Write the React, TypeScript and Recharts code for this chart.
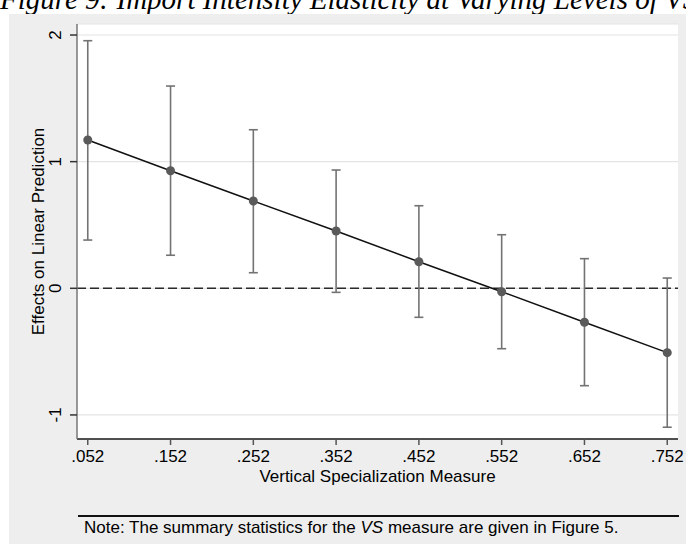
import React from 'react';
import { ComposedChart, Line, XAxis, YAxis, CartesianGrid, ReferenceLine, ErrorBar } from 'recharts';

const xLabels = ['.052', '.152', '.252', '.352', '.452', '.552', '.652', '.752'];
const xValues = [0.052, 0.152, 0.252, 0.352, 0.452, 0.552, 0.652, 0.752];
const estimates = [1.171, 0.928, 0.689, 0.452, 0.21, -0.027, -0.268, -0.508];
const upperCI = [1.955, 1.597, 1.252, 0.934, 0.652, 0.423, 0.234, 0.081];
const lowerCI = [0.381, 0.261, 0.123, -0.032, -0.229, -0.477, -0.769, -1.097];
const yTicks = [-1, 0, 1, 2];

const titleText = 'Figure 9: Import Intensity Elasticity at Varying Levels of VS';
const xTitle = 'Vertical Specialization Measure';
const yTitle = 'Effects on Linear Prediction';

const data = xValues.map((x, i) => ({
  x,
  est: estimates[i],
  err: [estimates[i] - lowerCI[i], upperCI[i] - estimates[i]],
}));

const SANS = '"Liberation Sans", Arial, sans-serif';
const FS = 17;

const YTick = (props: any) => {
  const { x, y, payload } = props;
  const cx = x - 12;
  return (
    <text
      x={cx}
      y={y}
      transform={`rotate(-90 ${cx} ${y})`}
      textAnchor="middle"
      dominantBaseline="central"
      fontFamily={SANS}
      fontSize={FS}
      fill="#000"
    >
      {String(payload.value)}
    </text>
  );
};

const xTickFmt = (v: number) => {
  const i = xValues.findIndex((z) => Math.abs(z - v) < 1e-6);
  return i >= 0 ? xLabels[i] : String(v);
};

export default function App() {
  return (
    <div style={{ position: 'absolute', left: 0, top: 0, width: 686, height: 544, overflow: 'hidden', background: '#fff' }}>
      <div
        style={{
          position: 'absolute',
          left: 0,
          top: -15.3,
          fontFamily: '"Liberation Serif", "Times New Roman", serif',
          fontStyle: 'italic',
          fontSize: 29,
          lineHeight: '29px',
          whiteSpace: 'nowrap',
          color: '#000',
        }}
      >
        {titleText}
      </div>
      <div style={{ position: 'absolute', left: 9, top: 14, width: 677, height: 530, background: '#eeeeee' }} />
      <div style={{ position: 'absolute', left: 0, top: 0 }}>
        <ComposedChart width={686} height={544} data={data} margin={{ top: 24, right: 8, bottom: 62, left: 0 }}>
          <CartesianGrid vertical={false} stroke="#e4e4e4" strokeWidth={1.2} fill="#ffffff" />
          <XAxis
            dataKey="x"
            type="number"
            domain={[0.039, 0.765]}
            allowDataOverflow
            ticks={xValues}
            tickFormatter={xTickFmt}
            interval={0}
            height={43}
            tickSize={6}
            tickMargin={5}
            axisLine={{ stroke: '#1a1a1a', strokeWidth: 1.5 }}
            tickLine={{ stroke: '#555', strokeWidth: 1.5 }}
            tick={{ fontFamily: SANS, fontSize: FS, fill: '#000' }}
            label={{ value: xTitle, position: 'insideBottom', offset: 0, fontFamily: SANS, fontSize: FS, fill: '#000' }}
          />
          <YAxis
            type="number"
            domain={[-1.19, 2.087]}
            allowDataOverflow
            ticks={yTicks}
            interval={0}
            width={77}
            tickSize={7}
            tickMargin={2}
            axisLine={{ stroke: '#777', strokeWidth: 1.5 }}
            tickLine={{ stroke: '#333', strokeWidth: 1.5 }}
            tick={<YTick />}
            label={{ value: yTitle, angle: -90, position: 'center', fontFamily: SANS, fontSize: FS, fill: '#000', dx: -1 }}
          />
          <ReferenceLine y={0} stroke="#2a2a2a" strokeWidth={1.5} strokeDasharray="9 4" ifOverflow="hidden" />
          <Line
            dataKey="est"
            type="linear"
            stroke="#111"
            strokeWidth={1.5}
            dot={{ r: 4.5, fill: '#5a5a5a', stroke: 'none' }}
            activeDot={false}
            isAnimationActive={false}
          >
            <ErrorBar dataKey="err" direction="y" width={4.5} stroke="#737373" strokeWidth={1.6} isAnimationActive={false} />
          </Line>
        </ComposedChart>
      </div>
      <div style={{ position: 'absolute', left: 78, top: 515, width: 601, height: 2, background: '#111' }} />
      <div
        style={{
          position: 'absolute',
          left: 84,
          top: 519.1,
          fontFamily: SANS,
          fontSize: FS,
          lineHeight: `${FS}px`,
          whiteSpace: 'nowrap',
          color: '#000',
        }}
      >
        Note: The summary statistics for the <i>VS</i> measure are given in Figure 5.
      </div>
    </div>
  );
}
